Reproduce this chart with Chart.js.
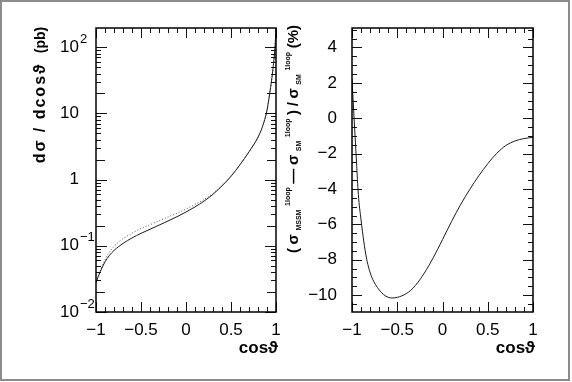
<!DOCTYPE html>
<html>
<head>
<meta charset="utf-8">
<script src="https://cdn.jsdelivr.net/npm/chart.js@4.4.0/dist/chart.umd.min.js"></script>
<style>
  html, body { margin: 0; padding: 0; background: #fff; }
  #wrap { position: relative; width: 572px; height: 382px; }
  #frame { position: absolute; left: 0; top: 0; width: 570px; height: 381px; box-sizing: border-box; border: 2px solid #8c8c8c; }
  canvas { position: absolute; left: 0; top: 0; }
</style>
</head>
<body>
<div id="wrap">
  <div id="frame"></div>
  <canvas id="leftChart" width="572" height="382"></canvas>
  <canvas id="rightChart" width="572" height="382"></canvas>
</div>
<script>
// left panel: dsigma/dcos(theta) in pb
const cosLeft = [-1, -0.95, -0.9, -0.85, -0.8, -0.75, -0.7, -0.6, -0.5, -0.4, -0.3, -0.2, -0.1, 0, 0.1, 0.2, 0.3, 0.4, 0.5, 0.6, 0.7, 0.8, 0.85, 0.9, 0.93, 0.95, 0.97, 0.99, 1];
const dsigmaSolid = [0.028, 0.0414, 0.0571, 0.0719, 0.0851, 0.097, 0.1086, 0.1312, 0.1542, 0.1778, 0.2051, 0.2371, 0.2754, 0.3236, 0.387, 0.473, 0.6, 0.804, 1.122, 1.679, 2.63, 4.37, 6.31, 11.2, 20, 30.9, 52.5, 105, 200];
const dsigmaDotted = [0.028, 0.0431, 0.0617, 0.0805, 0.0979, 0.1135, 0.1281, 0.1548, 0.182, 0.208, 0.238, 0.2727, 0.311, 0.359, 0.422, 0.501, 0.618, 0.812, 1.122, 1.679, 2.63, 4.37, 6.31, 11.2, 20, 30.9, 52.5, 105, 200];
const logTickExp = [-2, -1, 0, 1, 2];

// right panel: relative difference in %
const cosRight = [-1, -0.98, -0.965, -0.95, -0.93, -0.9, -0.87, -0.84, -0.81, -0.78, -0.74, -0.7, -0.65, -0.6, -0.55, -0.5, -0.45, -0.4, -0.35, -0.3, -0.25, -0.2, -0.15, -0.1, -0.05, 0, 0.05, 0.1, 0.15, 0.2, 0.25, 0.3, 0.35, 0.4, 0.45, 0.5, 0.55, 0.6, 0.65, 0.7, 0.75, 0.8, 0.85, 0.9, 0.95, 1];
const ratioPct = [2.2, 0.3, -1.1, -2.5, -4.3, -5.75, -6.95, -7.9, -8.55, -9.0, -9.4, -9.7, -9.97, -10.12, -10.16, -10.12, -10.04, -9.91, -9.725, -9.455, -9.125, -8.745, -8.32, -7.86, -7.37, -6.86, -6.345, -5.84, -5.35, -4.885, -4.445, -4.03, -3.635, -3.26, -2.905, -2.57, -2.26, -1.98, -1.74, -1.54, -1.395, -1.285, -1.205, -1.15, -1.11, -1.085];

const FONT = "Arial, 'Liberation Sans', sans-serif";

function fmtTick(v) {
  return v < 0 ? '\u2212' + Math.abs(v) : String(v);
}

function toPoints(xs, ys) {
  return xs.map((x, i) => ({ x: x, y: ys[i] }));
}

// ticks pointing inwards, frame, axis titles
function decor(yMarks, drawTitle) {
  return {
    id: 'decor',
    afterDraw(chart) {
      const ctx = chart.ctx;
      const ca = chart.chartArea;
      const xs = chart.scales.x, ys = chart.scales.y;
      ctx.save();
      ctx.strokeStyle = '#111';
      ctx.lineWidth = 1;
      ctx.beginPath();
      for (let i = -10; i <= 10; i++) {
        const px = Math.round(xs.getPixelForValue(i / 10)) + 0.5;
        const len = i % 5 === 0 ? 10 : 5;
        ctx.moveTo(px, ca.bottom); ctx.lineTo(px, ca.bottom - len);
        ctx.moveTo(px, ca.top); ctx.lineTo(px, ca.top + len);
      }
      yMarks.forEach(m => {
        if (m.v < ys.min || m.v > ys.max) return;
        const py = Math.round(ys.getPixelForValue(m.v)) + 0.5;
        ctx.moveTo(ca.left, py); ctx.lineTo(ca.left + m.len, py);
        ctx.moveTo(ca.right, py); ctx.lineTo(ca.right - m.len, py);
      });
      ctx.stroke();
      ctx.lineWidth = 1.5;
      ctx.strokeStyle = '#000';
      ctx.strokeRect(ca.left, ca.top, ca.width, ca.height);

      // x title
      ctx.fillStyle = '#000';
      ctx.font = 'bold 17px ' + FONT;
      ctx.textAlign = 'right';
      ctx.textBaseline = 'middle';
      ctx.fillText('cos\u03D1', ca.right + 2, 348);

      drawTitle(ctx, chart);
      ctx.restore();
    }
  };
}

// log minor ticks
const logMarks = [];
logTickExp.forEach(e => {
  for (let m = 1; m <= 9; m++) {
    logMarks.push({ v: m * Math.pow(10, e), len: m === 1 ? 11 : (m === 2 ? 9 : 5) });
  }
});

const linMarks = [];
for (let v = -11; v <= 5; v += 0.5) {
  linMarks.push({ v: v, len: v % 2 === 0 ? 10 : 5 });
}

function leftTitle(ctx, chart) {
  const ys = chart.scales.y;
  // y tick labels 10^n
  ctx.fillStyle = '#000';
  ctx.textBaseline = 'middle';
  logTickExp.forEach(e => {
    const py = ys.getPixelForValue(Math.pow(10, e));
    ctx.font = '17px ' + FONT;
    ctx.textAlign = 'right';
    if (e === 0) { ctx.fillText('1', 79, py); return; }
    ctx.fillText('10', 79, py);
    if (e === 1) return;
    ctx.font = '13px ' + FONT;
    ctx.textAlign = 'left';
    ctx.fillText(e < 0 ? '\u2212' + Math.abs(e) : String(e), 80, py - 8);
  });

  ctx.save();
  ctx.translate(45, 113);
  ctx.rotate(-Math.PI / 2);
  ctx.font = 'bold 16px ' + FONT;
  ctx.letterSpacing = '2px';
  ctx.textAlign = 'center';
  ctx.textBaseline = 'alphabetic';
  ctx.fillText('d\u03C3 / dcos\u03D1', 0, 0);
  ctx.restore();

  ctx.save();
  ctx.translate(45, 40);
  ctx.rotate(-Math.PI / 2);
  ctx.font = 'bold 14px ' + FONT;
  ctx.textAlign = 'center';
  ctx.textBaseline = 'alphabetic';
  ctx.fillText('(pb)', 0, 0);
  ctx.restore();
}

function rightTitle(ctx) {
  const segs = [
    ['(', 'm'], ['\u03C3', 'm'], ['MSSM', 'sub'], ['1loop', 'sup'], ['\u2014', 'm'],
    ['\u03C3', 'm'], ['SM', 'sub'], ['1loop', 'sup'], [')', 'm'], ['/', 'm'],
    ['\u03C3', 'm'], ['SM', 'sub'], ['1loop', 'sup'], ['(%)', 'm']
  ];
  const fonts = { m: 'bold 15px ' + FONT, sub: 'bold 7px ' + FONT, sup: 'bold 7px ' + FONT };
  const shift = { m: 0, sub: 3, sup: -8 };
  let total = 0;
  segs.forEach(s => { ctx.font = fonts[s[1]]; total += ctx.measureText(s[0]).width; });
  const gap = (228 - total) / (segs.length - 1);
  ctx.save();
  ctx.translate(298, 253);
  ctx.rotate(-Math.PI / 2);
  ctx.fillStyle = '#000';
  ctx.textAlign = 'left';
  ctx.textBaseline = 'alphabetic';
  let x = 0;
  segs.forEach(s => {
    ctx.font = fonts[s[1]];
    ctx.fillText(s[0], x, shift[s[1]]);
    x += ctx.measureText(s[0]).width + gap;
  });
  ctx.restore();
}

const tickFont = { family: FONT, size: 17 };

new Chart(document.getElementById('leftChart'), {
  type: 'line',
  data: {
    datasets: [{
      data: toPoints(cosLeft, dsigmaSolid),
      borderColor: '#1a1a1a',
      borderWidth: 1,
      pointRadius: 0,
      cubicInterpolationMode: 'monotone'
    }, {
      data: toPoints(cosLeft, dsigmaDotted),
      borderColor: '#555',
      borderWidth: 1,
      borderDash: [1, 2],
      pointRadius: 0,
      cubicInterpolationMode: 'monotone'
    }]
  },
  options: {
    responsive: false,
    animation: false,
    events: [],
    layout: { autoPadding: false, padding: { left: 46, right: 296, top: 28, bottom: 40 } },
    plugins: { legend: { display: false }, tooltip: { enabled: false } },
    scales: {
      x: {
        type: 'linear', min: -1, max: 1,
        grid: { display: false, drawTicks: false },
        border: { display: false },
        ticks: { stepSize: 0.5, callback: fmtTick, color: '#000', font: tickFont, padding: 8, maxRotation: 0, autoSkip: false },
        afterFit: s => { s.height = 30; }
      },
      y: {
        type: 'logarithmic', min: 0.01, max: 195,
        grid: { display: false, drawTicks: false },
        border: { display: false },
        ticks: { display: false },
        afterFit: s => { s.width = 50; }
      }
    }
  },
  plugins: [decor(logMarks, leftTitle)]
});

new Chart(document.getElementById('rightChart'), {
  type: 'line',
  data: {
    datasets: [{
      data: toPoints(cosRight, ratioPct),
      borderColor: '#1a1a1a',
      borderWidth: 1,
      pointRadius: 0,
      cubicInterpolationMode: 'monotone'
    }]
  },
  options: {
    responsive: false,
    animation: false,
    events: [],
    layout: { autoPadding: false, padding: { left: 302, right: 39, top: 28, bottom: 40 } },
    plugins: { legend: { display: false }, tooltip: { enabled: false } },
    scales: {
      x: {
        type: 'linear', min: -1, max: 1,
        grid: { display: false, drawTicks: false },
        border: { display: false },
        ticks: { stepSize: 0.5, callback: fmtTick, color: '#000', font: tickFont, padding: 8, maxRotation: 0, autoSkip: false },
        afterFit: s => { s.height = 30; }
      },
      y: {
        type: 'linear', min: -10.95, max: 5.1,
        grid: { display: false, drawTicks: false },
        border: { display: false },
        ticks: { stepSize: 2, includeBounds: false, callback: fmtTick, color: '#000', font: tickFont, padding: 15 },
        afterFit: s => { s.width = 50; }
      }
    }
  },
  plugins: [decor(linMarks, rightTitle)]
});
</script>
</body>
</html>
